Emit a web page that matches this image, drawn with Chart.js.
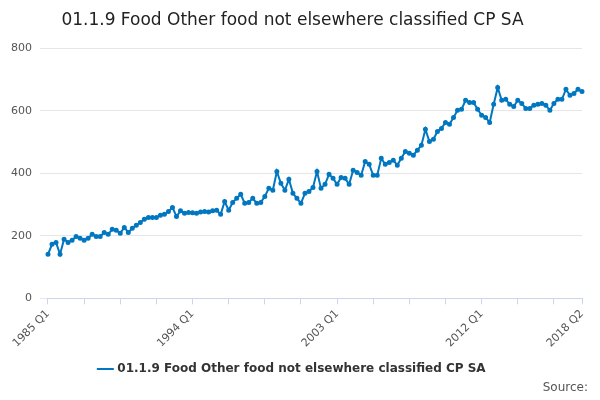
<!DOCTYPE html>
<html>
<head>
<meta charset="utf-8">
<script src="https://cdn.jsdelivr.net/npm/chart.js@4"></script>
<style>
  body { margin: 0; background: #fff; font-family: "DejaVu Sans", sans-serif; }
  #wrap { position: relative; width: 600px; height: 400px; }
  #source { position: absolute; right: 12px; bottom: 6px; font-size: 12px; color: #555; }
</style>
</head>
<body>
<div id="wrap">
  <canvas id="chart" width="600" height="400"></canvas>
  <div id="source">Source:</div>
</div>
<script>
const seriesName = '01.1.9 Food Other food not elsewhere classified CP SA';
const startYear = 1985;
const tickLabels = ['1985 Q1', '1994 Q1', '2003 Q1', '2012 Q1', '2018 Q2'];
const yTicks = [0, 200, 400, 600, 800];

const values = [
  141, 173, 179, 141, 189, 179, 186, 198, 192, 186,
  192, 205, 198, 198, 211, 205, 221, 218, 208, 227,
  211, 224, 234, 243, 253, 259, 259, 259, 266, 269,
  278, 291, 262, 280, 272, 275, 274, 272, 276, 278,
  276, 280, 282, 269, 310, 282, 307, 320, 333, 304,
  307, 320, 304, 307, 326, 352, 346, 406, 368, 346,
  381, 336, 320, 304, 336, 342, 355, 406, 352, 365,
  397, 384, 365, 387, 384, 365, 410, 403, 394, 438,
  429, 394, 394, 448, 429, 435, 442, 426, 448, 470,
  464, 458, 474, 490, 541, 502, 509, 534, 544, 563,
  557, 579, 602, 605, 634, 627, 627, 605, 586, 579,
  563, 621, 675, 634, 637, 621, 614, 634, 624, 608,
  608, 618, 621, 624, 618, 602, 624, 637, 637, 669,
  650, 656, 669, 662
];

// quarter labels, one per value
const labels = values.map((v, i) => (startYear + Math.floor(i / 4)) + ' Q' + (i % 4 + 1));

const blue = '#0077c0';

new Chart(document.getElementById('chart'), {
  type: 'line',
  data: {
    labels: labels,
    datasets: [{
      label: seriesName,
      data: values,
      borderColor: blue,
      backgroundColor: blue,
      borderWidth: 2,
      pointRadius: 1.5,
      pointHoverRadius: 3,
      tension: 0
    }]
  },
  options: {
    responsive: false,
    animation: false,
    layout: { padding: { left: 3, right: 18, bottom: 15 } },
    plugins: {
      title: {
        display: true,
        text: seriesName,
        color: '#222',
        font: { size: 17, family: '"DejaVu Sans", sans-serif', weight: 'normal' },
        padding: { top: 10, bottom: 18 }
      },
      legend: {
        position: 'bottom',
        labels: {
          usePointStyle: true,
          pointStyle: 'line',
          color: '#333',
          font: { size: 12, weight: 'bold', family: '"DejaVu Sans", sans-serif' },
          padding: 10
        }
      },
      tooltip: { enabled: false }
    },
    scales: {
      x: {
        grid: {
          drawOnChartArea: false,
          color: ctx => (ctx.index % 9 === 0 || ctx.index === values.length - 1) ? '#ccd6eb' : 'rgba(0,0,0,0)',
          tickLength: 6
        },
        border: { color: '#ccd6eb' },
        ticks: {
          autoSkip: false,
          maxRotation: 45,
          minRotation: 45,
          color: '#555',
          font: { size: 11, family: '"DejaVu Sans", sans-serif' },
          callback: function(v, i) {
            const l = labels[i];
            return tickLabels.includes(l) ? l : '';
          }
        }
      },
      y: {
        min: 0,
        max: 800,
        afterBuildTicks: axis => { axis.ticks = yTicks.map(v => ({ value: v })); },
        grid: { color: '#e6e6e6' },
        border: { display: false },
        ticks: { color: '#555', font: { size: 11, family: '"DejaVu Sans", sans-serif' }, padding: 8 }
      }
    }
  }
});
</script>
</body>
</html>
